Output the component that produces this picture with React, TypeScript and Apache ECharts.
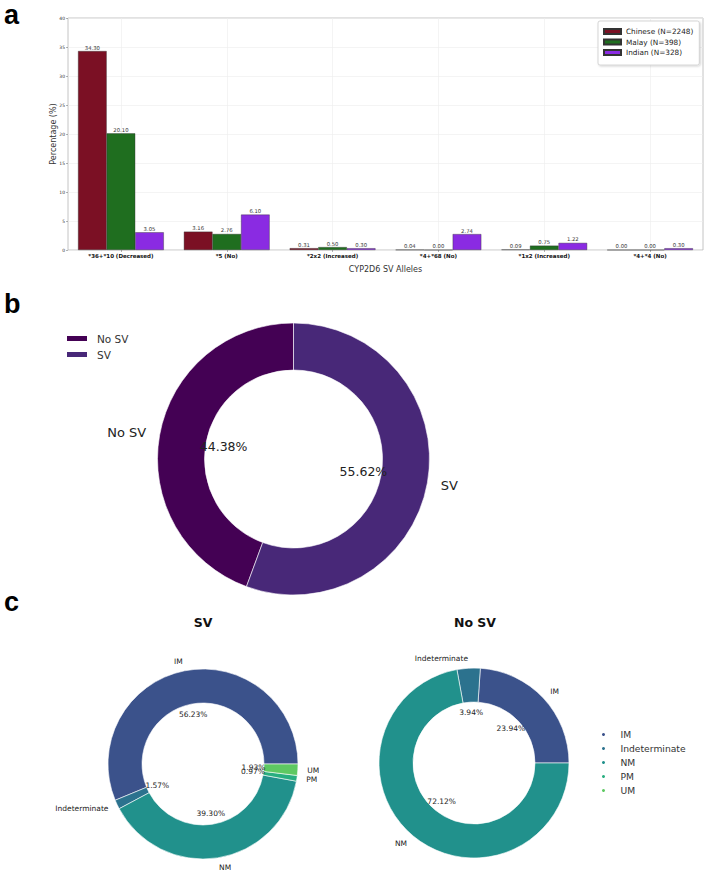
import React, { useEffect, useRef } from 'react';
import * as echarts from 'echarts';

// ---------- data ----------
const categories = [
  '*36+*10 (Decreased)',
  '*5 (No)',
  '*2x2 (Increased)',
  '*4+*68 (No)',
  '*1x2 (Increased)',
  '*4+*4 (No)',
];
const barSeriesNames = ['Chinese (N=2248)', 'Malay (N=398)', 'Indian (N=328)'];
const chinese = [34.3, 3.16, 0.31, 0.04, 0.09, 0.0];
const malay = [20.1, 2.76, 0.5, 0.0, 0.75, 0.0];
const indian = [3.05, 6.1, 0.3, 2.74, 1.22, 0.3];
const yMin = 0;
const yMax = 40;
const yInterval = 5;

const svStatusNames = ['No SV', 'SV'];
const svStatusValues = [44.38, 55.62];

const phenotypeNames = ['IM', 'Indeterminate', 'NM', 'PM', 'UM'];
const svPhenotypeNames = ['IM', 'Indeterminate', 'NM', 'PM', 'UM'];
const svPhenotypeValues = [56.23, 1.57, 39.3, 0.97, 1.93];
const noSvPhenotypeNames = ['IM', 'Indeterminate', 'NM'];
const noSvPhenotypeValues = [23.94, 3.94, 72.12];

// ---------- styles ----------
const FONT = 'DejaVu Sans';
const barColors = ['#7b1024', '#1f6e1f', '#8a2be2'];
const statusColors: Record<string, string> = { 'No SV': '#440154', SV: '#482878' };
const phenoColors: Record<string, string> = {
  IM: '#3b528b',
  Indeterminate: '#2c728e',
  NM: '#21918c',
  PM: '#28ae80',
  UM: '#5ec962',
};

const bCenter = [293.5, 459];
const bR = 136;
const bR0 = 89;
const cR = 95;
const cR0 = 61;
const cSvCenter = [203, 764];
const cNoSvCenter = [474, 763];

function donutSeries(
  name: string,
  center: number[],
  r0: number,
  r: number,
  startAngle: number,
  names: string[],
  values: number[],
  colors: Record<string, string>,
  labelSize: number
) {
  return {
    type: 'pie',
    name,
    center,
    radius: [r0, r],
    startAngle,
    clockwise: false,
    avoidLabelOverlap: false,
    silent: true,
    z: 2,
    itemStyle: { borderColor: '#ffffff', borderWidth: 0.6 },
    label: {
      show: true,
      position: 'outside',
      formatter: '{b}',
      fontFamily: FONT,
      fontSize: labelSize,
      color: '#222',
      distanceToLabelLine: 0,
      alignTo: 'none',
    },
    labelLine: { show: false, length: r * 0.1, length2: 0 },
    labelLayout: { hideOverlap: false },
    data: names.map((n, i) => ({ name: n, value: values[i], itemStyle: { color: colors[n] } })),
  };
}

function pctSeries(
  name: string,
  center: number[],
  r: number,
  startAngle: number,
  names: string[],
  values: number[],
  labelSize: number
) {
  return {
    type: 'pie',
    name,
    center,
    radius: [0, r],
    startAngle,
    clockwise: false,
    avoidLabelOverlap: false,
    silent: true,
    z: 3,
    itemStyle: { color: 'rgba(0,0,0,0)', borderWidth: 0 },
    label: {
      show: true,
      position: 'inside',
      formatter: (p: any) => p.value.toFixed(2) + '%',
      fontFamily: FONT,
      fontSize: labelSize,
      color: '#222',
      textBorderWidth: 0,
    },
    labelLine: { show: false },
    labelLayout: { hideOverlap: false },
    data: names.map((n, i) => ({ name: n, value: values[i] })),
  };
}

const barData = [chinese, malay, indian];

const option: any = {
  animation: false,
  backgroundColor: '#ffffff',
  textStyle: { fontFamily: FONT },
  grid: {
    left: 68,
    right: 5,
    top: 18,
    bottom: 622,
    show: true,
    borderColor: '#b5b5b5',
    borderWidth: 0.8,
  },
  xAxis: {
    type: 'category',
    data: categories,
    name: 'CYP2D6 SV Alleles',
    nameLocation: 'middle',
    nameGap: 15,
    nameMoveOverlap: false,
    nameTextStyle: { fontFamily: FONT, fontSize: 8, color: '#333' },
    axisLine: { show: false },
    axisTick: { show: true, alignWithLabel: true, length: 2, lineStyle: { color: '#666', width: 0.5 } },
    axisLabel: { fontFamily: FONT, fontSize: 5.5, fontWeight: 'bold', color: '#111', margin: 3 },
    splitLine: { show: true, alignWithLabel: true, lineStyle: { color: '#ededed', width: 0.6 } },
  },
  yAxis: {
    type: 'value',
    min: yMin,
    max: yMax,
    interval: yInterval,
    name: 'Percentage (%)',
    nameLocation: 'middle',
    nameGap: 11,
    nameMoveOverlap: false,
    nameTextStyle: { fontFamily: FONT, fontSize: 8, color: '#333' },
    axisLine: { show: false },
    axisTick: { show: true, length: 2, lineStyle: { color: '#666', width: 0.5 } },
    axisLabel: { fontFamily: FONT, fontSize: 4.5, color: '#333', margin: 3 },
    splitLine: { show: true, lineStyle: { color: '#ededed', width: 0.6 } },
  },
  legend: [
    {
      data: barSeriesNames,
      orient: 'vertical',
      left: 598,
      top: 21,
      icon: 'rect',
      itemWidth: 17,
      itemHeight: 5,
      itemGap: 3.5,
      padding: [7, 6, 9, 5],
      borderColor: '#cccccc',
      borderWidth: 0.8,
      borderRadius: 2,
      backgroundColor: '#ffffff',
      shadowBlur: 2,
      shadowColor: 'rgba(0,0,0,0.18)',
      shadowOffsetX: 1,
      shadowOffsetY: 1,
      selectedMode: false,
      textStyle: { fontFamily: FONT, fontSize: 7.3, color: '#222' },
    },
    {
      data: svStatusNames,
      orient: 'vertical',
      left: 65,
      top: 333,
      icon: 'rect',
      itemWidth: 22,
      itemHeight: 7,
      itemGap: 5,
      padding: 0,
      selectedMode: false,
      textStyle: { fontFamily: FONT, fontSize: 10.5, color: '#333', padding: [0, 0, 0, 4] },
    },
    {
      data: phenotypeNames,
      orient: 'vertical',
      left: 600,
      top: 730,
      icon: 'circle',
      itemWidth: 24,
      itemHeight: 5,
      itemGap: 5,
      padding: 0,
      selectedMode: false,
      textStyle: { fontFamily: FONT, fontSize: 9.2, color: '#333' },
    },
  ],
  series: [
    ...barSeriesNames.map((n, i) => ({
      type: 'bar',
      name: n,
      data: barData[i],
      barGap: '0%',
      barCategoryGap: '19%',
      itemStyle: { color: barColors[i], borderColor: '#333', borderWidth: 0.4 },
      label: {
        show: true,
        position: 'top',
        distance: 1,
        formatter: (p: any) => Number(p.value).toFixed(2),
        fontFamily: FONT,
        fontSize: 5.3,
        color: '#333',
      },
      silent: true,
    })),
    donutSeries('b-donut', bCenter, bR0, bR, 90, svStatusNames, svStatusValues, statusColors, 13),
    pctSeries('b-pct', bCenter, bR, 90, svStatusNames, svStatusValues, 12.5),
    donutSeries('c-sv', cSvCenter, cR0, cR, 0, svPhenotypeNames, svPhenotypeValues, phenoColors, 7.5),
    pctSeries('c-sv-pct', cSvCenter, cR, 0, svPhenotypeNames, svPhenotypeValues, 7.5),
    donutSeries('c-nosv', cNoSvCenter, cR0, cR, 0, noSvPhenotypeNames, noSvPhenotypeValues, phenoColors, 7.5),
    pctSeries('c-nosv-pct', cNoSvCenter, cR, 0, noSvPhenotypeNames, noSvPhenotypeValues, 7.5),
  ],
  graphic: [
    { type: 'text', x: 4, y: 1, style: { text: 'a', fontFamily: 'Liberation Sans', fontWeight: 'bold', fontSize: 27, fill: '#000' } },
    { type: 'text', x: 4, y: 290, style: { text: 'b', fontFamily: 'Liberation Sans', fontWeight: 'bold', fontSize: 27, fill: '#000' } },
    { type: 'text', x: 4, y: 588, style: { text: 'c', fontFamily: 'Liberation Sans', fontWeight: 'bold', fontSize: 27, fill: '#000' } },
    { type: 'text', x: cSvCenter[0], y: 622, style: { text: 'SV', align: 'center', verticalAlign: 'middle', fontFamily: FONT, fontWeight: 'bold', fontSize: 12.5, fill: '#111' } },
    { type: 'text', x: cNoSvCenter[0] + 1, y: 622, style: { text: 'No SV', align: 'center', verticalAlign: 'middle', fontFamily: FONT, fontWeight: 'bold', fontSize: 12.5, fill: '#111' } },
  ],
};

export default function App() {
  const ref = useRef<HTMLDivElement>(null);
  useEffect(() => {
    const chart = echarts.init(ref.current!, null, { renderer: 'svg' });
    chart.setOption(option);
    return () => chart.dispose();
  }, []);
  return (
    <div
      ref={ref}
      style={{ position: 'fixed', left: 0, top: 0, width: 708, height: 872, background: '#ffffff' }}
    />
  );
}
